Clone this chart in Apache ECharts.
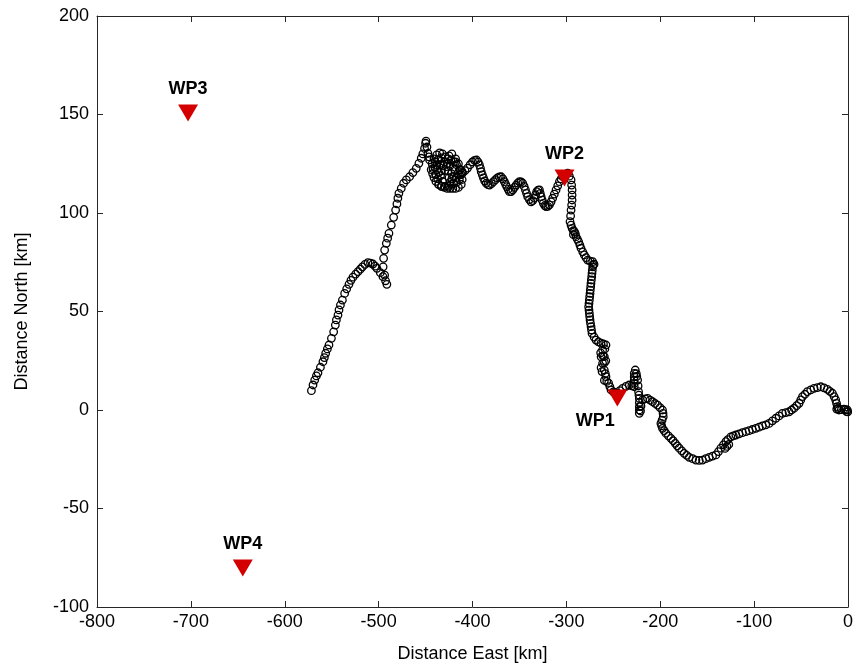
<!DOCTYPE html>
<html>
<head>
<meta charset="utf-8">
<script src="https://cdn.jsdelivr.net/npm/echarts@6/dist/echarts.min.js"></script>
<style>
  html, body { margin: 0; padding: 0; background: #fff; }
  #main { width: 853px; height: 671px; }
</style>
</head>
<body>
<div id="main"></div>
<script>
// track positions [east km, north km]
const trackStart = [
  [-571.6, 9.8], [-569.9, 12.7], [-568.1, 15.2], [-566.3, 17.3], [-564.6, 18.9],
  [-562.0, 21.7], [-559.3, 24.5], [-557.8, 26.6], [-556.4, 28.8], [-554.6, 31.0], [-552.9, 33.0],
  [-550.3, 36.4], [-547.9, 39.7], [-546.1, 43.1], [-545.0, 45.7], [-543.3, 48.2],
  [-542.2, 50.8], [-540.7, 53.3], [-538.6, 55.8], [-536.2, 59.2], [-534.0, 61.5], [-531.6, 63.8],
  [-529.5, 65.8], [-527.3, 67.4], [-524.5, 69.0], [-522.0, 70.2], [-519.5, 71.5], [-517.3, 72.7], [-514.5, 73.9],
  [-511.4, 74.8], [-508.7, 74.6], [-506.1, 74.1], [-503.8, 73.0], [-501.8, 71.9], [-498.2, 69.7],
  [-495.4, 67.7], [-492.6, 65.6], [-491.2, 63.8], [-493.6, 68.5], [-495.2, 72.7],
  [-494.7, 77.0], [-493.6, 81.2], [-491.8, 84.6], [-490.4, 87.2], [-489.0, 89.7], [-486.5, 93.9],
  [-484.0, 97.8], [-481.9, 101.5], [-480.5, 104.6], [-479.5, 107.5], [-478.4, 110.0],
  [-475.9, 112.5], [-473.4, 115.1], [-470.5, 116.8], [-467.0, 118.4], [-463.5, 120.5],
  [-459.9, 122.7], [-457.1, 125.2], [-454.6, 127.8], [-452.9, 130.0], [-451.1, 132.8],
  [-450.0, 135.4], [-449.5, 136.5], [-448.5, 133.5], [-447.5, 130.3], [-446.5, 128.5], [-445.7, 126.9]
];

// tangled knot near -430 km east
const trackKnot = [
  [-444, 122], [-443, 125], [-441, 127.5], [-438, 129.5], [-435, 130.5], [-432, 130],
  [-429, 128.5], [-426, 127.5], [-423, 127], [-420, 126], [-417, 124.5], [-414, 122],
  [-412, 119.5], [-411, 117], [-412, 114.5], [-415, 113], [-418, 112.5], [-421, 112.5],
  [-424, 112.5], [-427, 112.5], [-430, 113], [-433, 113.5], [-436, 114.5], [-439, 116],
  [-441, 118], [-442.5, 120], [-440, 123], [-437, 117.3], [-436, 120.5], [-433, 121.5],
  [-429.5, 121.5], [-426, 121.5], [-422.5, 120], [-422, 117.3], [-422.5, 114.5], [-426, 113.5],
  [-429.5, 113.5], [-433, 113.5], [-436, 114.5], [-438, 122], [-436, 127], [-433, 128],
  [-440, 126], [-437, 127], [-430, 126], [-427, 125], [-424, 124], [-419, 122],
  [-416, 120], [-414, 117], [-417, 115.5], [-420, 115], [-439, 119.5], [-434, 124.5],
  [-417, 118], [-431, 124], [-425, 118], [-418, 126], [-434, 119], [-428, 123.5],
  [-438, 124.5], [-442, 122.5], [-420, 118.5], [-414, 119.5], [-424, 115.5], [-432, 116],
  [-425, 129], [-422, 130], [-418, 127.5], [-415, 125], [-413, 122], [-411, 121]
];

const trackMiddle = [
  [-410.6, 120.3], [-408, 121.5], [-405.3, 122.8], [-402.5, 124.5], [-400.0, 125.9], [-397.8, 126.7],
  [-395.7, 126.9], [-394, 125.8], [-392.6, 124.4], [-391.5, 122.7], [-390.7, 121.0], [-389.5, 119.4],
  [-388.3, 117.8], [-387, 116.3], [-385.4, 115.1], [-383.6, 114.4], [-381.9, 114.2], [-379.8, 114.9],
  [-377.7, 115.9], [-375.5, 116.9], [-373.4, 117.8], [-371.4, 118.3], [-369.5, 118.4], [-367.6, 117.3],
  [-366.0, 115.9], [-364.7, 114.6], [-363.5, 113.4], [-362, 112], [-360.6, 110.8], [-358.8, 110.9],
  [-357.1, 111.7], [-355.3, 113], [-353.5, 114.2], [-351.8, 115.2], [-350.0, 115.9], [-348.2, 115.8],
  [-346.5, 115.1], [-345, 113.5], [-343.6, 111.7], [-342.4, 110], [-341.2, 108.3], [-339.4, 106.8],
  [-337.6, 105.7], [-335.8, 106.3], [-334.0, 107.5], [-332.8, 109.2], [-331.6, 110.8], [-330.1, 111.6],
  [-328.7, 111.7], [-327.8, 110], [-326.9, 108.3], [-325.7, 106.5], [-324.5, 104.9], [-323, 103.8],
  [-321.6, 103.2], [-319.8, 103.4], [-318.1, 104.1], [-316.3, 105.7], [-314.6, 107.5], [-312.8, 109.6],
  [-311.0, 111.7], [-309.2, 113.8], [-307.4, 115.9], [-305.6, 117.3], [-303.9, 118.4], [-301.2, 119.5],
  [-298.6, 120.2], [-296.8, 118.7], [-295.0, 116.8], [-294.4, 114.2], [-293.9, 111.7], [-293.9, 109.1],
  [-293.9, 106.6], [-294.4, 104], [-295.0, 101.5], [-295.5, 98.5], [-296.1, 95.6], [-295, 93.8],
  [-293.9, 92.2], [-292.5, 91], [-291.5, 90.5], [-292.5, 89.0], [-290.5, 89.5], [-289.7, 88.0],
  [-288.3, 86.7], [-286.9, 85.4], [-285.6, 83.7], [-284.4, 82.1], [-282.6, 80.3], [-280.9, 78.7],
  [-279.1, 77.3], [-277.3, 76.1], [-274.6, 75.6], [-272.0, 75.3], [-270.5, 74.0], [-271.5, 73.5],
  [-272.0, 72.7], [-272.4, 71], [-272.7, 69.4], [-273, 67.7], [-273.4, 66.0], [-273.8, 64.3],
  [-274.1, 62.6], [-274.5, 60.9], [-274.8, 59.2], [-275.2, 57.5], [-275.5, 55.8], [-275.9, 54.1],
  [-276.3, 52.4], [-275.9, 50.7], [-275.5, 49.1], [-275.2, 47.4], [-274.8, 45.7], [-274.3, 44],
  [-273.7, 42.3], [-273.2, 40.6], [-272.7, 38.9], [-270.5, 37], [-268.4, 35.5], [-265.8, 34.6],
  [-263.1, 33.9], [-260.5, 33.5], [-257.8, 33.0]
];

const trackEnd = [
  [-259.0, 31.0], [-261.4, 30.5], [-263.5, 29], [-263.0, 27.0], [-261, 27.5], [-259.6, 27.1],
  [-258.0, 25.0], [-259.5, 24], [-261.4, 23.7], [-263.0, 21.5], [-262, 19.5], [-259.6, 20.3],
  [-258.5, 18.5], [-257.8, 16.9], [-259.5, 15.0], [-257, 14.5], [-255.0, 13.6], [-253.7, 11.9],
  [-252.4, 10.2], [-250, 9.2], [-247.5, 8.8], [-245.7, 8.6], [-243, 9.8], [-240.1, 11.0],
  [-236.5, 12], [-233.0, 12.7], [-230.3, 12.3], [-227.7, 11.8], [-227.7, 13.5], [-227.7, 15.2],
  [-227.7, 16.9], [-227.7, 18.6], [-226.6, 20.3], [-225.5, 18.5], [-225, 17], [-224.1, 15.2],
  [-223.6, 12.2], [-223.1, 9.3], [-222.7, 7.6], [-222.3, 5.9], [-222.3, 3.8], [-222.3, 1.7],
  [-222.3, 0], [-222.3, -1.7], [-221, -0.5], [-220.5, 2], [-218.8, 5.1], [-216, 5.6],
  [-213.5, 5.9], [-210.8, 5], [-208.2, 4.2], [-205.5, 3.3], [-202.9, 2.5], [-200.2, 1.2],
  [-197.6, 0], [-197, -1.7], [-196.8, -3.4], [-198, -5.1], [-199.3, -6.8], [-198.5, -8],
  [-197.6, -9.3], [-195.8, -10.5], [-194.0, -11.8], [-191.3, -13.1], [-188.6, -14.4], [-186.3, -15.6],
  [-184.0, -16.9], [-181.9, -18.2], [-179.8, -19.4], [-177.1, -20.7], [-174.5, -22.0], [-171.8, -23],
  [-169.1, -24.0], [-165.5, -24.7], [-162.0, -25.4], [-158.5, -25.6], [-155.0, -25.4], [-151.5, -24.7],
  [-147.9, -24.0], [-144.3, -23.4], [-140.7, -22.8], [-138, -21.1], [-135.4, -19.4], [-132.7, -17.7],
  [-130.1, -16.1], [-127.0, -17.5], [-129, -18.5], [-131, -19.5], [-128, -15], [-124.8, -13.6],
  [-122.2, -13.1], [-119.5, -12.7], [-116, -12.1], [-112.4, -11.5], [-108.8, -11], [-105.3, -10.5],
  [-101.8, -9.9], [-98.2, -9.3], [-94.7, -8.7], [-91.2, -8.1], [-87.6, -7.5], [-84.0, -6.8],
  [-80.5, -5.5], [-76.9, -4.2], [-73.4, -3], [-69.9, -1.7], [-66.3, -1.3], [-62.8, -0.9],
  [-60.1, 0], [-57.4, 0.9], [-54.7, 2.2], [-52.1, 3.4], [-50.3, 5.1], [-48.5, 6.8],
  [-45.9, 8], [-43.3, 9.3], [-39.7, 10.2], [-36.2, 11.0], [-32.6, 11.4], [-29.0, 11.8],
  [-25.5, 11.2], [-22.0, 10.5], [-19.3, 9.5], [-16.6, 8.5], [-14.8, 6.8], [-13.1, 5.1],
  [-12.2, 3.4], [-11.4, 1.7], [-12, 0.5], [-10.5, 0.8], [-9.6, 0], [-7, 0.2],
  [-4.3, 0.4], [-2.5, 0.2], [-0.7, 0], [-1.5, -0.8], [-0.3, -1]
];

// waypoint markers
const wpNames = ["WP1", "WP2", "WP3", "WP4"];
const wpEast = [-245.7, -302, -703, -644.7];
const wpNorth = [6.1, 117.8, 150.8, -80.2];

const xTicks = { min: -800, max: 0, step: 100 };
const yTicks = { min: -100, max: 200, step: 50 };

var chart = echarts.init(document.getElementById("main"));

const axisColor = "#262626";
const font = "Liberation Sans, Arial, sans-serif";

function axisCommon(showLabel) {
  return {
    axisLine: { show: true, onZero: false, lineStyle: { color: axisColor, width: 1 } },
    axisTick: { show: true, inside: true, length: 6, lineStyle: { color: axisColor } },
    axisLabel: { show: showLabel, color: "#000", fontSize: 18, fontFamily: font },
    splitLine: { show: false }
  };
}

var track = trackStart.concat(trackKnot, trackMiddle, trackEnd);
var wpData = wpNames.map((n, i) => ({ name: n, value: [wpEast[i], wpNorth[i]] }));

var option = {
  animation: false,
  grid: { left: 97, right: 5, top: 16, bottom: 64, outerBoundsMode: "none", containLabel: false },
  xAxis: [
    Object.assign({
      type: "value", min: xTicks.min, max: xTicks.max, interval: xTicks.step,
      name: "Distance East [km]", nameLocation: "middle", nameGap: 38,
      nameTextStyle: { color: "#000", fontSize: 18, fontFamily: font }
    }, axisCommon(true), { axisLabel: { color: "#000", fontSize: 18, fontFamily: font, margin: 6 } }),
    Object.assign({
      type: "value", min: xTicks.min, max: xTicks.max, interval: xTicks.step, position: "top"
    }, axisCommon(false))
  ],
  yAxis: [
    Object.assign({
      type: "value", min: yTicks.min, max: yTicks.max, interval: yTicks.step,
      name: "Distance North [km]", nameLocation: "middle", nameGap: 66,
      nameTextStyle: { color: "#000", fontSize: 18, fontFamily: font }
    }, axisCommon(true), { axisLabel: { color: "#000", fontSize: 18, fontFamily: font, margin: 8 } }),
    Object.assign({
      type: "value", min: yTicks.min, max: yTicks.max, interval: yTicks.step, position: "right"
    }, axisCommon(false))
  ],
  series: [
    {
      type: "scatter",
      data: track,
      symbol: "circle",
      symbolSize: 7.5,
      itemStyle: { color: "rgba(0,0,0,0)", borderColor: "#000", borderWidth: 1.3, opacity: 1 },
      z: 2
    },
    {
      type: "scatter",
      data: wpData,
      symbol: "triangle",
      symbolRotate: 180,
      symbolSize: [20, 17],
      itemStyle: { color: "#d40000", borderWidth: 0, opacity: 1 },
      label: {
        show: true,
        formatter: "{b}",
        position: "top",
        distance: 6,
        color: "#000",
        fontSize: 18,
        fontWeight: "bold",
        fontFamily: font
      },
      labelLayout: function (params) {
        if (params.dataIndex === 0) {
          return { x: params.rect.x - 12, y: params.rect.y + params.rect.height + 6, align: "center", verticalAlign: "top" };
        }
      },
      z: 3
    }
  ]
};

chart.setOption(option);
</script>
</body>
</html>
